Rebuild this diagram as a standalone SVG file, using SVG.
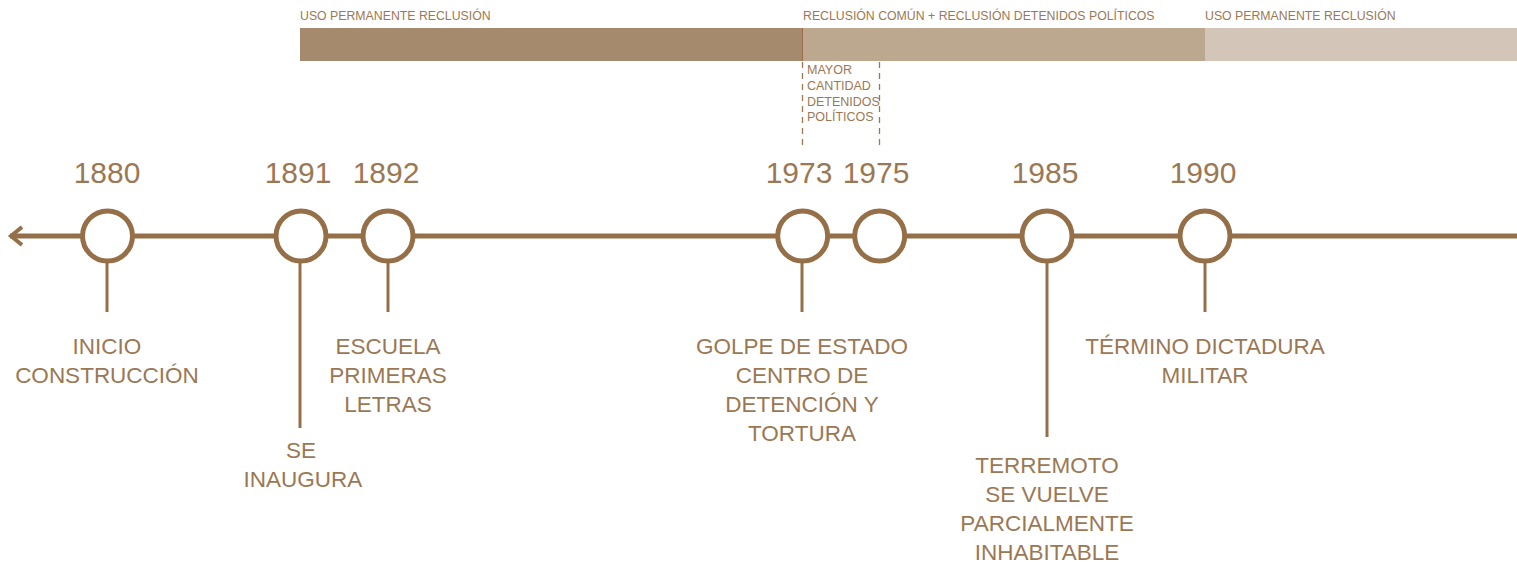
<svg xmlns="http://www.w3.org/2000/svg" width="1517" height="562" viewBox="0 0 1517 562">
<style>
.t{font-family:"Liberation Sans",Arial,sans-serif;fill:#9b7854;text-anchor:middle}
.yr{font-size:30px}
.lb{font-size:22.5px}
.top{font-family:"Liberation Sans",Arial,sans-serif;fill:#9b7854;font-size:12.3px}
.sm{font-family:"Liberation Sans",Arial,sans-serif;fill:#9b7854;font-size:12.5px}
.node circle{fill:#fff;stroke:#946f48;stroke-width:5}
.stem{stroke:#946f48;stroke-width:3}
.dash{stroke:#9b7854;stroke-width:1.3;stroke-dasharray:6,5;fill:none}
</style>
<g id="bars">
<rect x="300" y="28" width="502" height="33" fill="#a68a6d"/>
<rect x="802" y="28" width="403" height="33" fill="#bca78f"/>
<rect x="1205" y="28" width="312" height="33" fill="#d3c5b7"/>
<line x1="802.5" y1="28" x2="802.5" y2="61" stroke="#9a6e48" stroke-width="1"/>
<text class="top" x="300" y="20">USO PERMANENTE RECLUSIÓN</text>
<text class="top" x="803" y="20">RECLUSIÓN COMÚN + RECLUSIÓN DETENIDOS POLÍTICOS</text>
<text class="top" x="1205" y="20">USO PERMANENTE RECLUSIÓN</text>
</g>
<g id="mayor">
<line class="dash" x1="802.5" y1="62" x2="802.5" y2="145"/>
<line class="dash" x1="879.5" y1="62" x2="879.5" y2="145"/>
<text class="sm" x="807" y="74">MAYOR</text>
<text class="sm" x="807" y="90">CANTIDAD</text>
<text class="sm" x="807" y="106">DETENIDOS</text>
<text class="sm" x="807" y="121">POLÍTICOS</text>
</g>
<g id="connectors">
<line x1="10" y1="236" x2="1517" y2="236" stroke="#946f48" stroke-width="5"/>
<path d="M22,227 L11,236 L22,245" fill="none" stroke="#946f48" stroke-width="4"/>
<line class="stem" x1="107" y1="262" x2="107" y2="312"/>
<line class="stem" x1="300" y1="262" x2="300" y2="428"/>
<line class="stem" x1="388" y1="262" x2="388" y2="312"/>
<line class="stem" x1="802" y1="262" x2="802" y2="312"/>
<line class="stem" x1="1047" y1="262" x2="1047" y2="437"/>
<line class="stem" x1="1205" y1="262" x2="1205" y2="312"/>
</g>
<g id="n1880" class="node"><circle cx="107.5" cy="236" r="25"/><text class="t yr" x="107" y="183">1880</text>
<text class="t lb" x="107" y="354">INICIO</text><text class="t lb" x="107" y="383">CONSTRUCCIÓN</text></g>
<g id="n1891" class="node"><circle cx="301" cy="236" r="25"/><text class="t yr" x="298" y="183">1891</text>
<text class="t lb" x="301" y="458">SE</text><text class="t lb" x="303" y="487">INAUGURA</text></g>
<g id="n1892" class="node"><circle cx="388" cy="236" r="25"/><text class="t yr" x="386" y="183">1892</text>
<text class="t lb" x="388" y="354">ESCUELA</text><text class="t lb" x="388" y="383">PRIMERAS</text><text class="t lb" x="388" y="412">LETRAS</text></g>
<g id="n1973" class="node"><circle cx="802.7" cy="236" r="25"/><text class="t yr" x="799" y="183">1973</text>
<text class="t lb" x="802" y="354">GOLPE DE ESTADO</text><text class="t lb" x="802" y="383">CENTRO DE</text><text class="t lb" x="802" y="412">DETENCIÓN Y</text><text class="t lb" x="802" y="441">TORTURA</text></g>
<g id="n1975" class="node"><circle cx="879.7" cy="236" r="25"/><text class="t yr" x="876" y="183">1975</text></g>
<g id="n1985" class="node"><circle cx="1047" cy="236" r="25"/><text class="t yr" x="1045" y="183">1985</text>
<text class="t lb" x="1047" y="473">TERREMOTO</text><text class="t lb" x="1047" y="502">SE VUELVE</text><text class="t lb" x="1047" y="531">PARCIALMENTE</text><text class="t lb" x="1047" y="560">INHABITABLE</text></g>
<g id="n1990" class="node"><circle cx="1205" cy="236" r="25"/><text class="t yr" x="1203" y="183">1990</text>
<text class="t lb" x="1205" y="354">TÉRMINO DICTADURA</text><text class="t lb" x="1205" y="383">MILITAR</text></g>
</svg>
